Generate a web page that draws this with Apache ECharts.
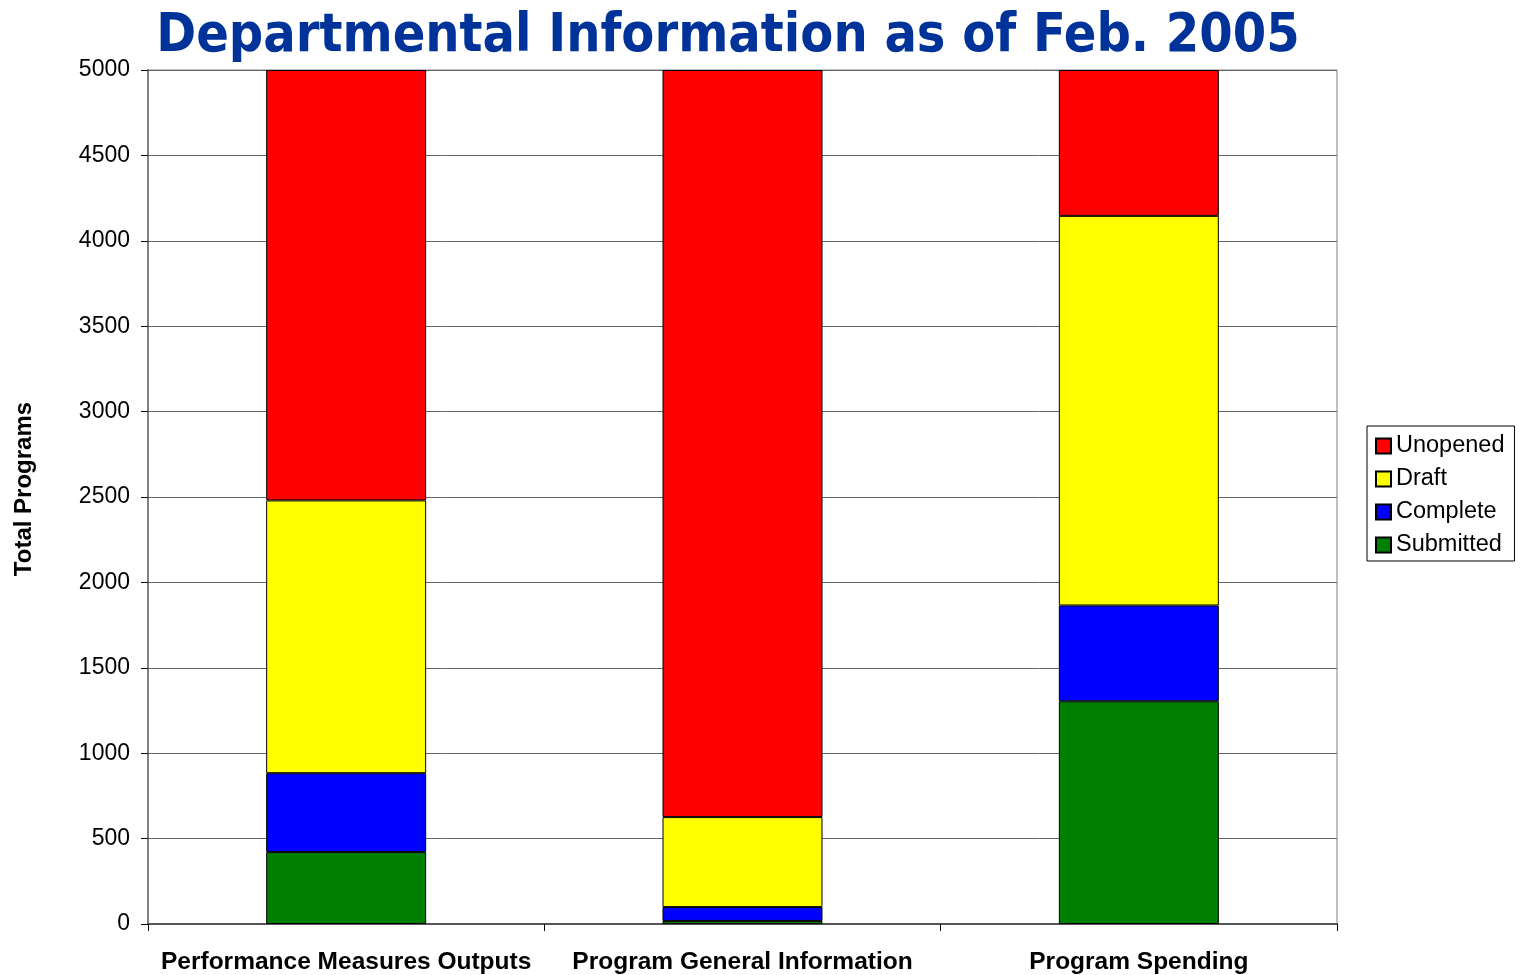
<!DOCTYPE html>
<html>
<head>
<meta charset="utf-8">
<script src="https://cdn.jsdelivr.net/npm/echarts@6/dist/echarts.min.js"></script>
<style>
html, body { margin: 0; padding: 0; background: #fff; }
#chart { width: 1525px; height: 975px; }
</style>
</head>
<body>
<div id="chart"></div>
<script>
var categories = ['Performance Measures Outputs', 'Program General Information', 'Program Spending'];
var submitted = [421, 18, 1304];
var complete = [462, 81, 561];
var draft = [1597, 527, 2281];
var unopened = [2520, 4374, 854];
var legendOrder = ['Unopened', 'Draft', 'Complete', 'Submitted'];

var myChart = echarts.init(document.getElementById('chart'));

function bar(name, color, data) {
	return {
		name : name,
		type : 'bar',
		stack : 'total',
		barWidth : 160,
		itemStyle : {
			color : color,
			borderColor : '#000',
			borderWidth : 1
		},
		data : data
	};
}

var option = {
	animation : false,
	title : {
		text : 'Departmental Information as of Feb. 2005',
		left : 723,
		textAlign : 'center',
		top : 5,
		textStyle : {
			fontFamily : 'DejaVu Sans Condensed',
			fontWeight : 'bold',
			fontSize : 53.5,
			color : '#003399'
		}
	},
	legend : {
		data : legendOrder,
		orient : 'vertical',
		left : 1367,
		top : 426,
		padding : [8, 10, 4, 8],
		itemGap : 9,
		itemWidth : 15,
		itemHeight : 15,
		borderColor : '#000',
		borderWidth : 1,
		icon : 'rect',
		textStyle : {
			fontFamily : 'Liberation Sans',
			fontSize : 23.5,
			color : '#000'
		}
	},
	grid : {
		left : 148,
		right : 188,
		top : 70,
		bottom : 50,
		show : true,
		borderColor : '#808080',
		borderWidth : 1
	},
	xAxis : {
		type : 'category',
		data : categories,
		axisLine : { lineStyle : { color : '#555', width : 2 } },
		axisTick : { show : true, length : 7, lineStyle : { color : '#000' } },
		axisLabel : {
			interval : 0,
			hideOverlap : false,
			margin : 26,
			fontFamily : 'Liberation Sans',
			fontWeight : 'bold',
			fontSize : 24.5,
			color : '#000'
		}
	},
	yAxis : {
		type : 'value',
		min : 0,
		max : 5000,
		interval : 500,
		name : 'Total Programs',
		nameLocation : 'middle',
		nameGap : 112,
		nameTextStyle : {
			fontFamily : 'Liberation Sans',
			fontWeight : 'bold',
			fontSize : 24,
			color : '#000',
			padding : [0, 0, 0, 16]
		},
		axisLine : { show : true, lineStyle : { color : '#808080', width : 2 } },
		axisTick : { show : true, length : 7, lineStyle : { color : '#000' } },
		axisLabel : {
			margin : 18,
			fontFamily : 'Liberation Sans',
			fontSize : 23,
			color : '#000',
			formatter : function(v) {
				return String(v);
			}
		},
		splitLine : { lineStyle : { color : '#666', width : 1 } }
	},
	series : [
		bar('Submitted', '#008000', submitted),
		bar('Complete', '#0000FF', complete),
		bar('Draft', '#FFFF00', draft),
		bar('Unopened', '#FF0000', unopened)
	]
};
myChart.setOption(option);
</script>
</body>
</html>
